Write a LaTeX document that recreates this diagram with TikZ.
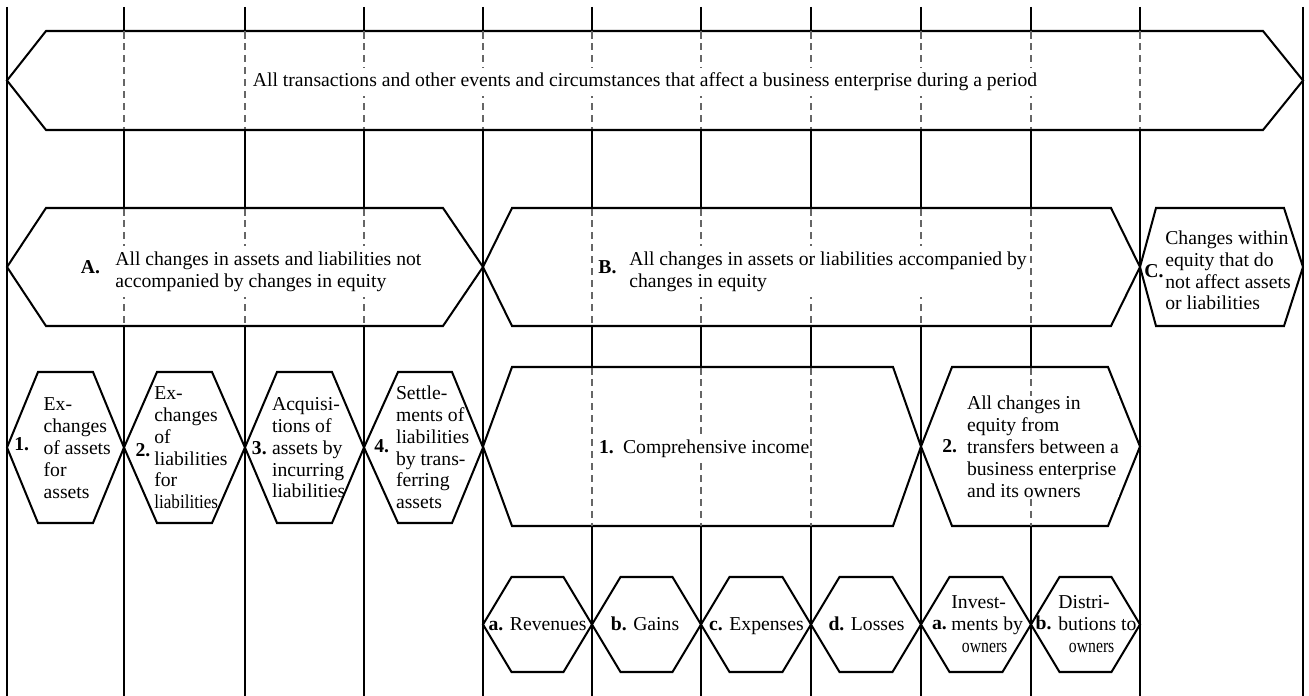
\documentclass[tikz,border=0pt]{standalone}
\usepackage{fontspec}
\setmainfont{Liberation Serif}
\begin{document}
\begin{tikzpicture}[x=0.02cm, y=-0.02cm]
  \tikzstyle{vline} = [line width=1.15pt]
  \tikzstyle{dline} = [draw=black!60, line width=0.6pt, dash pattern=on 4pt off 2.8pt]
  \tikzstyle{hexbox} = [draw, fill=white, line width=1.15pt, line join=miter]
  \tikzstyle{txt} = [font=\fontsize{11.2}{12.4}\selectfont, align=left, inner sep=0pt]
  \tikzstyle{wtxt} = [txt, fill=white, inner ysep=3pt]
  \tikzstyle{num} = [font=\fontsize{11.2}{12.4}\selectfont\bfseries, inner sep=0pt]
  \useasboundingbox (0,0) rectangle (1309,696);

  % Spalten
  \foreach \x in {7,124,245,364,483,592,701,811,921,1031,1140,1303}
    \draw[vline] (\x,7) -- (\x,696);

  % Kaesten
  \draw[hexbox] (7,80.5) -- (46,31) -- (1263,31) -- (1303,80.5) -- (1263,130) -- (46,130) -- cycle;
  \draw[hexbox] (7,267) -- (46,208) -- (443,208) -- (483,267) -- (443,326) -- (46,326) -- cycle;
  \draw[hexbox] (483,267) -- (512,208) -- (1111,208) -- (1140,267) -- (1111,326) -- (512,326) -- cycle;
  \draw[hexbox] (1140,267) -- (1156,208) -- (1284,208) -- (1303,267) -- (1284,326) -- (1156,326) -- cycle;
  \draw[hexbox] (7,447.5) -- (38,372) -- (93,372) -- (124,447.5) -- (93,523) -- (38,523) -- cycle;
  \draw[hexbox] (124,447.5) -- (157,372) -- (212,372) -- (245,447.5) -- (212,523) -- (157,523) -- cycle;
  \draw[hexbox] (245,447.5) -- (277,372) -- (332,372) -- (364,447.5) -- (332,523) -- (277,523) -- cycle;
  \draw[hexbox] (364,447.5) -- (398,372) -- (452,372) -- (483,447.5) -- (452,523) -- (398,523) -- cycle;
  \draw[hexbox] (483,446.5) -- (512,367) -- (893,367) -- (921,446.5) -- (893,526) -- (512,526) -- cycle;
  \draw[hexbox] (921,446.5) -- (952,367) -- (1108,367) -- (1140,446.5) -- (1108,526) -- (952,526) -- cycle;
  \foreach \l/\r in {483/592, 592/701, 701/811, 811/921, 921/1031, 1031/1140}
    \draw[hexbox] (\l,624.5) -- ({\l+28.5},577) -- ({\r-28.5},577) -- (\r,624.5) -- ({\r-28.5},672) -- ({\l+28.5},672) -- cycle;

  % gestrichelte Linien
  \foreach \x in {124,245,364,483,592,701,811,921,1031,1140}
    \draw[dline] (\x,31.5) -- (\x,129.5);
  \foreach \x in {124,245,364,592,701,811,921,1031}
    \draw[dline] (\x,208.5) -- (\x,325.5);
  \foreach \x in {592,701,811,1031}
    \draw[dline] (\x,367.5) -- (\x,525.5);

  % Texte
  \node[wtxt] (all) at (645,82) {All transactions and other events and circumstances that affect a business enterprise during a period};

  \node[num] (a-num) at (90.5,267.5) {A.};
  \node[wtxt, anchor=west] (a-txt) at (115,271.5) {All changes in assets and liabilities not\\accompanied by changes in equity};
  \node[num] (b-num) at (607.5,267.5) {B.};
  \node[wtxt, anchor=west] (b-txt) at (629,271.5) {All changes in assets or liabilities accompanied by\\changes in equity};
  \node[num] (c-num) at (1154,271) {C.};
  \node[txt, anchor=west] (c-txt) at (1165,270.5) {Changes within\\equity that do\\not affect assets\\or liabilities};

  \node[num] (a1-num) at (21.7,444.5) {1.};
  \node[txt, anchor=west] (a1-txt) at (43.3,448.2) {Ex-\\changes\\of assets\\for\\assets};
  \node[num] (a2-num) at (143,450) {2.};
  \node[txt, anchor=west] (a2-txt) at (154,447.8) {Ex-\\changes\\of\\liabilities\\for\\\scalebox{0.87}[1]{liabilities}};
  \node[num] (a3-num) at (259.3,448) {3.};
  \node[txt, anchor=west] (a3-txt) at (271.7,447.8) {Acquisi-\\tions of\\assets by\\incurring\\liabilities};
  \node[num] (a4-num) at (381.7,446) {4.};
  \node[txt, anchor=west] (a4-txt) at (395.7,447.5) {Settle-\\ments of\\liabilities\\by trans-\\ferring\\assets};

  \node[num] (b1-num) at (606.5,447) {1.};
  \node[wtxt, anchor=west] (b1-txt) at (622.7,448.8) {Comprehensive income};
  \node[num] (b2-num) at (949.7,446.2) {2.};
  \node[wtxt, inner ysep=0pt, anchor=west] (b2-txt) at (966.7,446.7) {All changes in\\equity from\\transfers between a\\business enterprise\\and its owners};

  \node[txt, anchor=base] (rev) at (537.5,630) {\textbf{a.} Revenues};
  \node[txt, anchor=base] (gain) at (645,630) {\textbf{b.} Gains};
  \node[txt, anchor=base] (exp) at (756.5,630) {\textbf{c.} Expenses};
  \node[txt, anchor=base] (loss) at (866.5,630) {\textbf{d.} Losses};
  \node[num] (inv-num) at (939.5,625.5) {a.};
  \node[txt, anchor=west] (inv) at (951,624.3) {Invest-\\ments by\\\hspace*{6pt}\scalebox{0.8}[1]{owners}};
  \node[num] (dist-num) at (1043.5,623.3) {b.};
  \node[txt, anchor=west] (dist) at (1058,624.3) {Distri-\\butions to\\\hspace*{6pt}\scalebox{0.8}[1]{owners}};
\end{tikzpicture}
\end{document}
